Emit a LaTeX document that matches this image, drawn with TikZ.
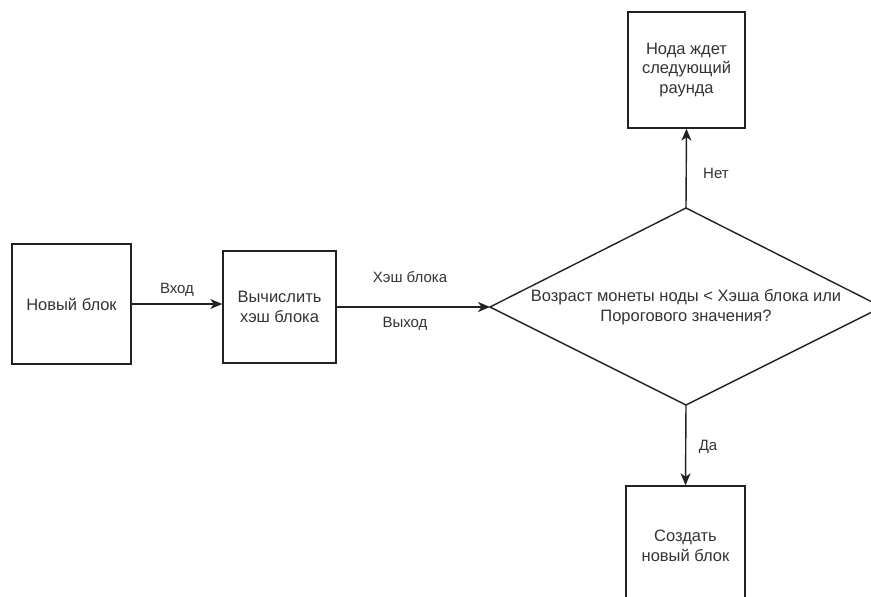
\documentclass[tikz,border=0pt]{standalone}
\usepackage{fontspec}
\setmainfont{Liberation Sans}
\usetikzlibrary{arrows.meta}
\definecolor{ink}{HTML}{222222}
\definecolor{txt}{HTML}{333333}
\tikzset{
  box/.style={draw=ink, line width=1.4pt, fill=white, align=center, text=txt,
              font=\fontsize{16.5}{19.5}\selectfont, inner sep=0pt},
  lbl/.style={text=txt, font=\fontsize{15}{18}\selectfont, inner sep=0pt},
  flow/.style={draw=ink, line width=1.4pt, -{Stealth[length=12pt,width=10pt,inset=3.5pt]}}
}
\begin{document}
\begin{tikzpicture}[x=1pt,y=-1pt]
  \useasboundingbox (0,0) rectangle (871,597);
  \begin{scope}
  \clip (0,0) rectangle (871,597);
  % process steps
  \node[box, minimum width=119pt, minimum height=120pt] (newblk) at (71.5,304) {Новый блок};
  \node[box, minimum width=113pt, minimum height=112pt] (hash) at (279.5,307) {Вычислить\\хэш блока};
  % decision
  \coordinate (dl) at (490,307);
  \coordinate (dt) at (686,208);
  \coordinate (dr) at (882,307);
  \coordinate (db) at (686,405);
  \draw[ink, line width=1.4pt, fill=white] (dl) -- (dt) -- (dr) -- (db) -- cycle;
  \node[text=txt, font=\fontsize{16.5}{19.5}\selectfont, align=center, inner sep=0pt] (cond) at (686,307)
    {Возраст монеты ноды < Хэша блока или\\Порогового значения?};
  % outcomes
  \node[box, minimum width=117pt, minimum height=116pt] (wait) at (686.5,70) {Нода ждет\\следующий\\раунда};
  \node[box, minimum width=119pt, minimum height=120pt] (create) at (685.5,546) {Создать\\новый блок};
  % connectors
  \draw[flow] (newblk.east) -- (newblk.east -| hash.west);
  \draw[flow] (hash.east |- dl) -- (dl);
  \draw[flow] (dt) -- (wait.south);
  \draw[flow] (db) -- (create.north);
  % labels
  \node[lbl] (lin) at (177,290) {Вход};
  \node[lbl] (lhash) at (410,277) {Хэш блока};
  \node[lbl] (lout) at (405,324) {Выход};
  \node[lbl] (lno) at (716,173) {Нет};
  \node[lbl] (lyes) at (708,447) {Да};
  \end{scope}
\end{tikzpicture}
\end{document}
